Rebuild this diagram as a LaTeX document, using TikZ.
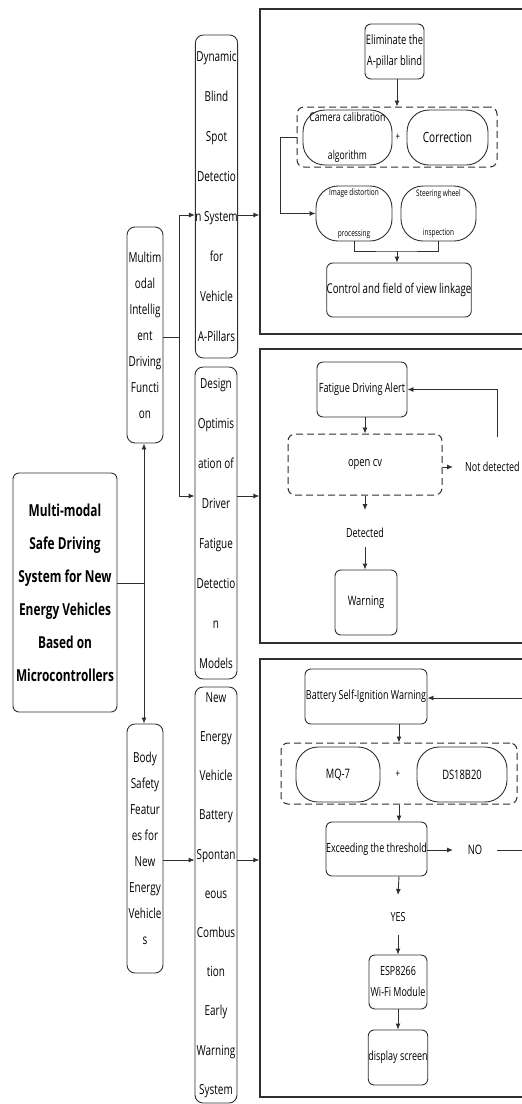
\documentclass[tikz,border=0pt]{standalone}
\usepackage{fontspec}
\setmainfont{Open Sans}[FakeStretch=0.72]
\usetikzlibrary{arrows.meta}
\definecolor{ln}{HTML}{303030}
\tikzset{
  every node/.style={text=black, inner sep=0pt, align=center},
  rbox/.style={draw=ln, line width=0.9pt, rounded corners=6pt},
  vbox/.style={draw=ln, line width=0.9pt, rounded corners=8pt},
  stad/.style={draw=ln, line width=0.9pt, rounded corners=22pt},
  dbox/.style={draw=ln, line width=1pt, dash pattern=on 7pt off 4pt, rounded corners=7pt},
  frame/.style={draw=ln, line width=1.3pt},
  conn/.style={draw=ln, line width=0.9pt},
  arr/.style={conn, -{Latex[length=6pt,width=5pt]}},
  fV/.style={font=\fontsize{13.8}{40}\selectfont},
  fS/.style={font=\fontsize{13.8}{26}\selectfont},
}
\begin{document}
\begin{tikzpicture}[x=1pt,y=-1pt]
\useasboundingbox (0,0) rectangle (522,1104);
\clip (0,0) rectangle (522,1104);
\fill[white] (0,0) rectangle (522,1104);

% left column
\node[rbox, minimum width=104pt, minimum height=239pt, font=\fontsize{16.5}{33}\selectfont\bfseries] (main) at (65,592.5)
  {Multi-modal\\Safe Driving\\System for New\\Energy Vehicles\\Based on\\Microcontrollers};
\node[vbox, fS, minimum width=36pt, minimum height=216pt] (multi) at (145,335)
  {Multim\\odal\\Intellig\\ent\\Driving\\Functi\\on};
\node[vbox, fS, minimum width=36pt, minimum height=249pt] (body) at (145,848.5)
  {Body\\Safety\\Featur\\es for\\New\\Energy\\Vehicle\\s};

\node[vbox, fV, minimum width=41pt, minimum height=323pt] (dyn) at (216.5,196.5)
  {Dynamic\\Blind\\Spot\\Detectio\\n System\\for\\Vehicle\\A-Pillars};
\node[vbox, fV, minimum width=42pt, minimum height=312pt] (des) at (216,523)
  {Design\\Optimis\\ation of\\Driver\\Fatigue\\Detectio\\n\\Models};
\node[vbox, minimum width=42pt, minimum height=416pt, font=\fontsize{13.8}{39.2}\selectfont] (nev) at (216,895)
  {New\\Energy\\Vehicle\\Battery\\Spontan\\eous\\Combus\\tion\\Early\\Warning\\System};

% frames
\node[frame, minimum width=290pt, minimum height=325pt] (fr1) at (405,171.5) {};
\node[frame, minimum width=290pt, minimum height=294pt] (fr2) at (405,496) {};
\node[frame, minimum width=290pt, minimum height=438pt] (fr3) at (405,878) {};

% left connectors
\coordinate (j1) at (144,583);
\draw[conn] (main.east |- j1) -- (j1);
\draw[arr] (j1) -- (j1 |- multi.south);
\draw[arr] (j1) -- (j1 |- body.north);
\coordinate (j2) at (179,337);
\draw[conn] (multi.east |- j2) -- (j2);
\draw[arr] (j2) |- (dyn.west |- 0,215);
\draw[arr] (j2) |- (des.west |- 0,496);
\draw[arr] (body.east |- 0,860) -- (nev.west |- 0,860);
\draw[arr] (dyn.east |- 0,215) -- (fr1.west |- 0,215);
\draw[arr] (des.east |- 0,496) -- (fr2.west |- 0,496);
\draw[arr] (nev.east |- 0,860) -- (fr3.west |- 0,860);

% frame 1
\node[rbox, minimum width=59pt, minimum height=55pt, font=\fontsize{13}{21}\selectfont] (elim) at (394.5,51.5) {Eliminate the\\A-pillar blind};
\node[dbox, minimum width=200pt, minimum height=60pt] (d1) at (397,137) {};
\node[stad, minimum width=89pt, minimum height=55pt, font=\fontsize{12}{38}\selectfont] (cam) at (347.5,137.5) {Camera calibration\\algorithm};
\node[font=\fontsize{11}{13}\selectfont] (p1) at (398,137) {+};
\node[stad, minimum width=81pt, minimum height=55pt, font=\fontsize{14}{16}\selectfont] (cor) at (447.5,137.5) {Correction};
\node[stad, minimum width=76pt, minimum height=55pt, font=\fontsize{9}{41}\selectfont] (img) at (354,213.5) {Image distortion\\processing};
\node[stad, minimum width=75pt, minimum height=55pt, font=\fontsize{9}{39}\selectfont] (ste) at (438.5,213.5) {Steering wheel\\inspection};
\node[rbox, minimum width=142pt, minimum height=54pt, font=\fontsize{13.5}{16}\selectfont] (ctl) at (399,290) {Control and field of view linkage};
\draw[arr] (d1.north |- elim.south) -- (d1.north);
\coordinate (k1) at (280,137);
\draw[arr] (d1.west) -- (k1) |- (img.west);
\coordinate (k2) at (397,251);
\draw[conn] (img.south) |- (k2) -| (ste.south);
\draw[arr] (k2) -- (k2 |- ctl.north);

% frame 2
\node[rbox, minimum width=90pt, minimum height=55pt, font=\fontsize{12.7}{15}\selectfont] (fat) at (362,389.5) {Fatigue Driving Alert};
\node[dbox, minimum width=154pt, minimum height=61pt, font=\fontsize{13}{15}\selectfont] (d2) at (365,464.5) {\raisebox{-2pt}{open cv}};
\node[anchor=west, font=\fontsize{12.5}{15}\selectfont] (nd) at (465,467) {Not detected};
\node[font=\fontsize{12.5}{15}\selectfont] (det) at (365,533) {Detected};
\node[rbox, minimum width=62pt, minimum height=65pt, font=\fontsize{13}{15}\selectfont] (warn) at (366,602.5) {Warning};
\draw[arr] (fat.south -| d2.north) -- (d2.north);
\draw[arr] (d2.east |- nd.west) -- (453,467);
\coordinate (k3) at (497,437);
\draw[arr] (k3) |- (fat.east);
\draw[arr] (d2.south) -- (d2.south |- 0,510);
\draw[arr] (det.south |- 0,547) -- (det.south |- warn.north);

% frame 3
\node[rbox, minimum width=122pt, minimum height=55pt, font=\fontsize{12.5}{15}\selectfont] (bat) at (366,696.5) {Battery Self-Ignition Warning};
\node[dbox, minimum width=236pt, minimum height=61pt] (d3) at (399,773.5) {};
\node[stad, minimum width=84pt, minimum height=55pt, font=\fontsize{13}{15}\selectfont] (mq) at (338,774.5) {MQ-7};
\node[font=\fontsize{11}{13}\selectfont] (p2) at (398,774) {+};
\node[stad, minimum width=90pt, minimum height=55pt, font=\fontsize{13}{15}\selectfont] (ds) at (462,774.5) {DS18B20};
\node[rbox, minimum width=101pt, minimum height=54pt, font=\fontsize{12.5}{15}\selectfont] (exc) at (376.5,849) {Exceeding the threshold};
\node[font=\fontsize{13}{15}\selectfont] (no) at (475,850) {NO};
\node[font=\fontsize{12.5}{15}\selectfont] (yes) at (398,917) {YES};
\node[rbox, minimum width=58pt, minimum height=54pt, font=\fontsize{12.5}{21}\selectfont] (esp) at (398,982) {ESP8266\\Wi-Fi Module};
\node[rbox, minimum width=58pt, minimum height=55pt, font=\fontsize{12.5}{15}\selectfont] (disp) at (398,1057.5) {display screen};
\draw[arr] (d3.north |- bat.south) -- (d3.north);
\draw[arr] (d3.south) -- (d3.south |- exc.north);
\draw[arr] (exc.east |- no.west) -- (453,850);
\coordinate (k4) at (497,850);
\coordinate (k5) at (532,850);
\draw[arr] (k4) -- (k5) |- (bat.east |- 0,698);
\draw[arr] (d3.south |- exc.south) -- (yes.north |- 0,895);
\draw[arr] (yes.south |- 0,935) -- (esp.north);
\draw[arr] (esp.south) -- (disp.north);
\end{tikzpicture}
\end{document}
